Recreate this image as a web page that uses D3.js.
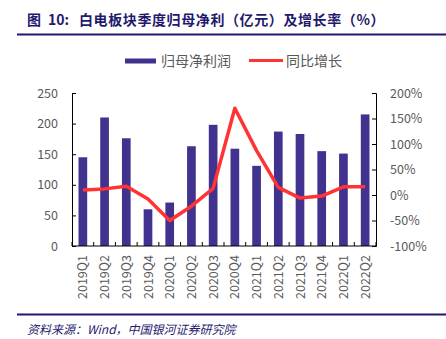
<!DOCTYPE html>
<html>
<head>
<meta charset="utf-8">
<script src="https://cdn.jsdelivr.net/npm/d3@7"></script>
<style>
  body { margin: 0; background: #fff; }
  text { font-family: "Noto Sans CJK SC", "Noto Sans", sans-serif; }
</style>
</head>
<body>
<div id="chart"></div>
<script>
(function() {
  'use strict';

  var quarters = ["2019Q1", "2019Q2", "2019Q3", "2019Q4", "2020Q1", "2020Q2", "2020Q3",
    "2020Q4", "2021Q1", "2021Q2", "2021Q3", "2021Q4", "2022Q1", "2022Q2"];
  var profit = [145, 210, 176, 60, 71, 163, 198, 159, 131, 187, 183, 155, 151, 215];
  var growth = [10, 12, 17, -8, -50, -22, 13, 170, 87, 15, -6, -2, 16, 16];
  var leftTicks = [0, 50, 100, 150, 200, 250];
  var rightTicks = [-100, -50, 0, 50, 100, 150, 200];

  var width = 446;
  var height = 339;
  var navy = "#1f1a6e";
  var barColor = "#41328f";
  var lineColor = "#ff3333";
  var labelColor = "#595959";

  var svg = d3.select("#chart")
    .append("svg")
    .attr("width", width)
    .attr("height", height);

  // title
  var title = svg.append("text")
    .attr("y", 25)
    .attr("font-size", 14)
    .attr("font-weight", "bold")
    .attr("fill", navy);
  title.append("tspan").attr("x", 27).text("图");
  title.append("tspan").attr("x", 48).text("10:");
  title.append("tspan").attr("x", 79).attr("letter-spacing", 0.6)
    .text("白电板块季度归母净利（亿元）及增长率（%）");

  svg.append("line")
    .attr("x1", 17).attr("x2", width)
    .attr("y1", 34.5).attr("y2", 34.5)
    .attr("stroke", navy)
    .attr("stroke-width", 2);

  // legend
  svg.append("rect")
    .attr("x", 125).attr("y", 58.5)
    .attr("width", 31).attr("height", 5)
    .attr("fill", barColor);
  svg.append("text")
    .attr("x", 161).attr("y", 66)
    .attr("font-size", 14)
    .attr("fill", labelColor)
    .text("归母净利润");
  svg.append("line")
    .attr("x1", 249).attr("x2", 283)
    .attr("y1", 60.5).attr("y2", 60.5)
    .attr("stroke", lineColor)
    .attr("stroke-width", 3);
  svg.append("text")
    .attr("x", 286).attr("y", 66)
    .attr("font-size", 14)
    .attr("fill", labelColor)
    .text("同比增长");

  var left = 72, right = 376, top = 93, bottom = 246;

  var x = d3.scaleBand()
    .domain(quarters)
    .range([left, right])
    .paddingInner(0.6)
    .paddingOuter(0.3);

  var xStep = d3.scaleBand().domain(quarters).range([left, right]);

  var yLeft = d3.scaleLinear().domain([0, 250]).range([bottom, top]);
  var yRight = d3.scaleLinear().domain([-100, 200]).range([bottom, top]);

  // bars
  svg.append("g")
    .selectAll("rect")
    .data(profit)
    .enter()
    .append("rect")
    .attr("x", function (d, i) { return x(quarters[i]); })
    .attr("width", x.bandwidth())
    .attr("y", function (d) { return yLeft(d); })
    .attr("height", function (d) { return yLeft(0) - yLeft(d); })
    .attr("fill", barColor);

  // line
  var line = d3.line()
    .x(function (d, i) { return xStep(quarters[i]) + xStep.bandwidth() / 2; })
    .y(function (d) { return yRight(d); });

  svg.append("path")
    .datum(growth)
    .attr("d", line)
    .attr("fill", "none")
    .attr("stroke", lineColor)
    .attr("stroke-width", 3.5)
    .attr("stroke-linejoin", "round");

  // axes
  var axisLeft = svg.append("g")
    .attr("transform", "translate(" + left + ",0)")
    .call(d3.axisRight(yLeft).tickValues(leftTicks).tickSize(4).tickFormat(""));
  leftTicks.forEach(function (t) {
    svg.append("text")
      .attr("x", 58).attr("y", yLeft(t) + 4.5)
      .attr("text-anchor", "end")
      .attr("font-size", 12.5)
      .attr("fill", labelColor)
      .text(t);
  });

  var axisRight = svg.append("g")
    .attr("transform", "translate(" + right + ",0)")
    .call(d3.axisLeft(yRight).tickValues(rightTicks).tickSize(4).tickFormat(""));
  rightTicks.forEach(function (t) {
    svg.append("text")
      .attr("x", 390).attr("y", yRight(t) + 4.5)
      .attr("font-size", 12.5)
      .attr("fill", labelColor)
      .text(t + "%");
  });

  var boundaries = quarters.map(function (q) { return xStep(q); }).concat([right]);
  var axisBottom = svg.append("g")
    .attr("transform", "translate(0," + bottom + ")");
  axisBottom.append("line")
    .attr("x1", left).attr("x2", right)
    .attr("stroke", "#000");
  axisBottom.selectAll(".tk")
    .data(boundaries)
    .enter()
    .append("line")
    .attr("x1", function (d) { return d; })
    .attr("x2", function (d) { return d; })
    .attr("y1", 0).attr("y2", -4)
    .attr("stroke", "#000");

  quarters.forEach(function (q) {
    var cx = xStep(q) + xStep.bandwidth() / 2;
    svg.append("text")
      .attr("transform", "translate(" + (cx + 4.5) + "," + (bottom + 9) + ") rotate(-90)")
      .attr("text-anchor", "end")
      .attr("font-size", 12.5)
      .attr("fill", labelColor)
      .text(q);
  });

  [axisLeft, axisRight].forEach(function (a) {
    a.select(".domain").attr("stroke", "#000");
    a.selectAll(".tick line").attr("stroke", "#000");
  });

  // footer
  svg.append("line")
    .attr("x1", 17).attr("x2", width)
    .attr("y1", 314.5).attr("y2", 314.5)
    .attr("stroke", navy)
    .attr("stroke-width", 2);
  svg.append("text")
    .attr("x", 27).attr("y", 334)
    .attr("font-size", 12)
    .attr("font-style", "italic")
    .attr("fill", navy)
    .text("资料来源：Wind，中国银河证券研究院");
})();
</script>
</body>
</html>
